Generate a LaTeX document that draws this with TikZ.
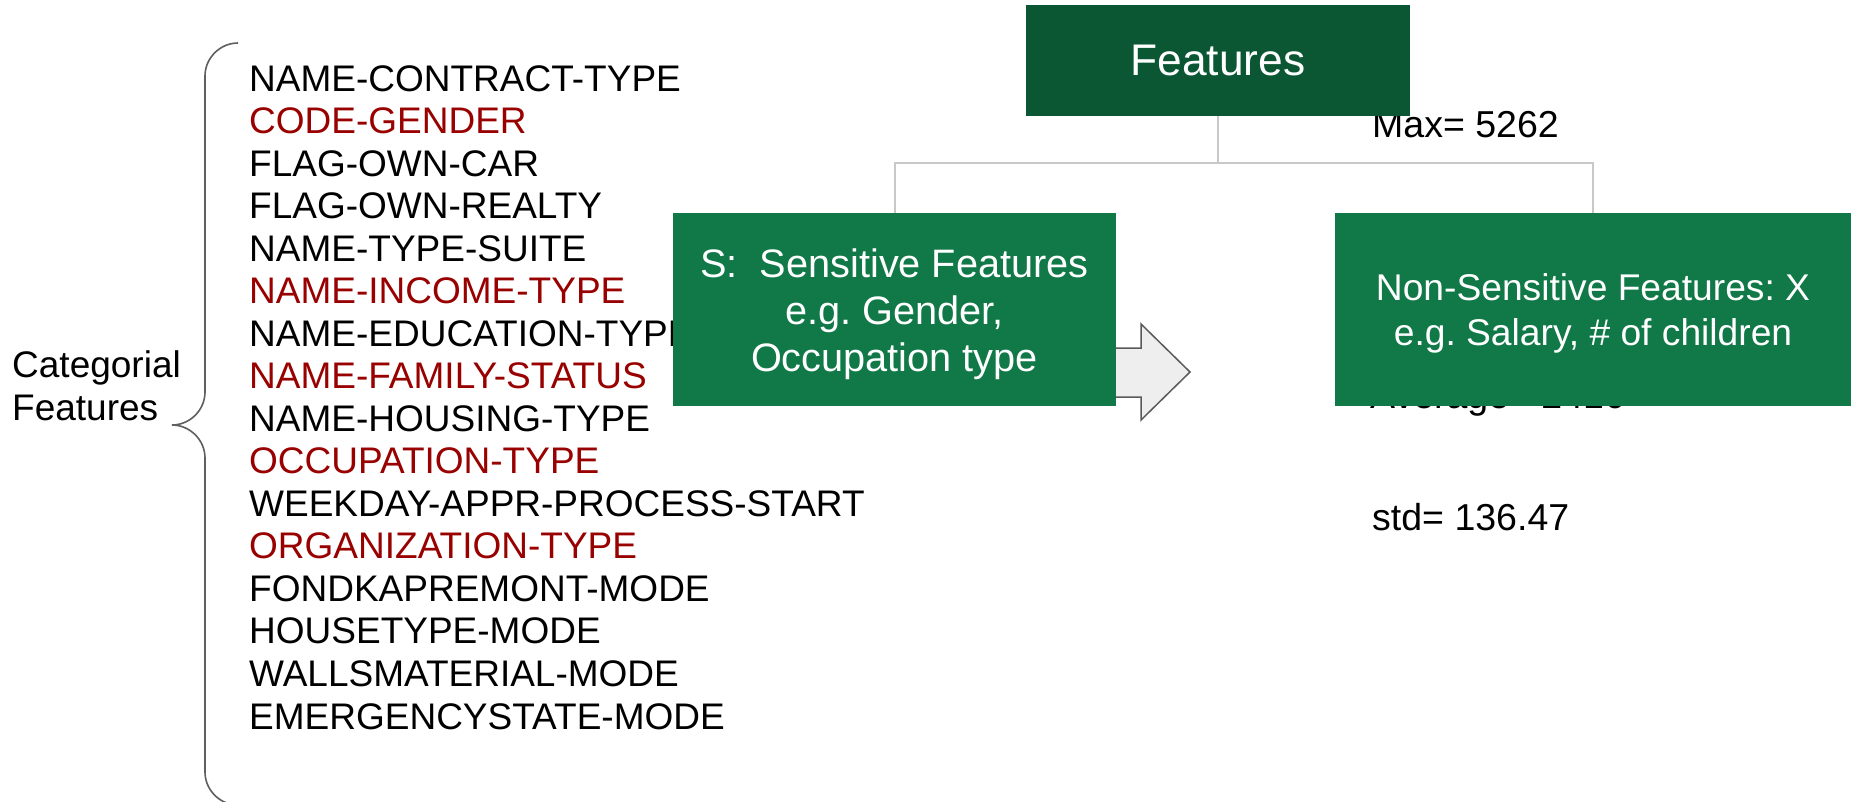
\documentclass[tikz,border=0pt]{standalone}
\usepackage{fontspec}
\setmainfont{Liberation Sans}

\definecolor{featdark}{RGB}{11,87,51}
\definecolor{featgreen}{RGB}{16,121,71}
\definecolor{sensred}{RGB}{153,0,0}
\definecolor{linkgray}{RGB}{200,200,200}
\definecolor{bracegray}{RGB}{95,95,95}
\definecolor{arrowfill}{RGB}{238,238,238}
\definecolor{arrowline}{RGB}{90,90,90}

\tikzset{
  listtext/.style={anchor=base west, inner sep=0pt, align=left},
  stattext/.style={anchor=base west, inner sep=0pt, font=\fontsize{37.5}{45}\selectfont},
  greenbox/.style={fill=featgreen, text=white, inner sep=0pt, align=center},
  link/.style={draw=linkgray, line width=2pt},
  bracestroke/.style={draw=bracegray, line width=1.6pt},
  blockarrow/.style={draw=arrowline, fill=arrowfill, line width=1.5pt, line join=miter},
}
% invisible strut that lowers a centred block of lines a little
\newcommand{\topstrut}[1]{\rule{0pt}{#1}}

\begin{document}
\frenchspacing
\begin{tikzpicture}[x=1pt,y=-1pt]
\useasboundingbox (0,0) rectangle (1854,801);
\fill[white] (0,0) rectangle (1854,801);

% group label and its brace (multi-line nodes sit on their last baseline)
\node[listtext, font=\fontsize{37}{43}\selectfont] (cat) at (12,420) {Categorial\\Features};
\draw[bracestroke]
  (238,43) .. controls (220,43) and (205,58) .. (205,76)
  -- (205,392) .. controls (205,410) and (190,425) .. (172,425)
  .. controls (190,425) and (205,440) .. (205,458)
  -- (205,772) .. controls (205,790) and (220,805) .. (238,805);

% categorial feature names (sensitive ones in red)
\node[listtext, font=\fontsize{37}{42.53}\selectfont] (catlist) at (249,729) {%
NAME-CONTRACT-TYPE\\
\textcolor{sensred}{CODE-GENDER}\\
FLAG-OWN-CAR\\
FLAG-OWN-REALTY\\
NAME-TYPE-SUITE\\
\textcolor{sensred}{NAME-INCOME-TYPE}\\
NAME-EDUCATION-TYPE\\
\textcolor{sensred}{NAME-FAMILY-STATUS}\\
NAME-HOUSING-TYPE\\
\textcolor{sensred}{OCCUPATION-TYPE}\\
WEEKDAY-APPR-PROCESS-START\\
\textcolor{sensred}{ORGANIZATION-TYPE}\\
FONDKAPREMONT-MODE\\
HOUSETYPE-MODE\\
WALLSMATERIAL-MODE\\
EMERGENCYSTATE-MODE};

% summary statistics
\node[stattext] (maxval) at (1372,137) {Max= 5262};
\node[stattext] (avgval) at (1370,408) {Average= 2416};
\node[stattext] (stdval) at (1372,530) {std= 136.47};

% block arrow from the sensitive group
\draw[blockarrow] (1100,348) -- (1141,348) -- (1141,324) -- (1190,372)
  -- (1141,420) -- (1141,397) -- (1100,397) -- cycle;

% feature hierarchy
\node[greenbox, fill=featdark, minimum width=384, minimum height=111,
      font=\fontsize{44.3}{50}\selectfont] (feat) at (1218,60.5) {Features};
\node[greenbox, minimum width=443, minimum height=193,
      font=\fontsize{39.7}{47}\selectfont] (sens) at (894.5,309.5)
      {\topstrut{39pt}S:\ \ Sensitive Features\\e.g. Gender,\\Occupation type};
\node[greenbox, minimum width=516, minimum height=193,
      font=\fontsize{37.2}{45}\selectfont] (nons) at (1593,309.5)
      {\topstrut{34pt}Non-Sensitive Features: X\\e.g. Salary, \# of children};

\draw[link] (feat.south) -- ++(0,47) coordinate (split) -| (sens.north);
\draw[link] (split) -| (nons.north);
\end{tikzpicture}
\end{document}
